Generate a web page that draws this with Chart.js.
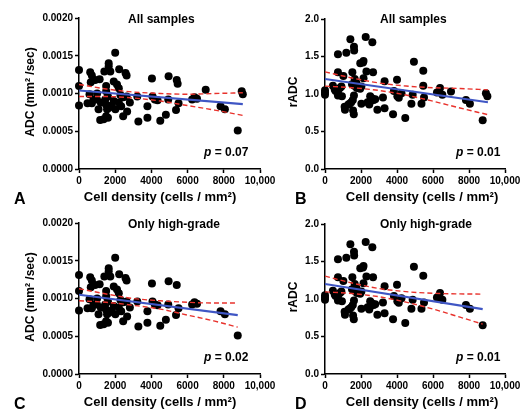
<!DOCTYPE html>
<html><head><meta charset="utf-8">
<script src="https://cdn.jsdelivr.net/npm/chart.js@4.4.1/dist/chart.umd.min.js"></script>
<style>
html,body{margin:0;padding:0;background:#fff;}
#wrap{position:relative;width:524px;height:410px;overflow:hidden;background:#fff;}
canvas{position:absolute;}
</style></head><body>
<div id="wrap">
<canvas id="cA" width="290" height="205" style="left:0;top:0"></canvas>
<canvas id="cB" width="262" height="205" style="left:262px;top:0"></canvas>
<canvas id="cC" width="290" height="205" style="left:0;top:205px"></canvas>
<canvas id="cD" width="262" height="205" style="left:262px;top:205px"></canvas>
</div>
<script>
// ---- Data ----
const xTicks = [0, 2000, 4000, 6000, 8000, 10000];
const adcTicks = [0, 0.0005, 0.001, 0.0015, 0.002];
const radcTicks = [0, 0.5, 1.0, 1.5, 2.0];

// Panel A: all samples, ADC
const aX = [0,0,0,470,580,620,650,710,710,800,890,990,1000,1080,1140,1170,1200,1360,1400,1450,1500,1500,1500,1500,1550,1600,1600,1640,1640,1650,1730,1800,1920,1920,2000,2010,2100,2200,2200,2220,2290,2330,2440,2450,2570,2630,2630,2660,2810,3220,3280,3780,3780,4030,4060,4190,4340,4490,4800,4930,4950,5360,5400,5450,5500,6250,6380,6520,7000,7820,8060,8770,8990,9050];
const aY = [0.00131,0.00110,0.00084,0.00087,0.00099,0.00128,0.00115,0.00124,0.00087,0.00092,0.00118,0.00092,0.00100,0.00079,0.00119,0.00065,0.00088,0.00066,0.00129,0.00092,0.00103,0.00085,0.00070,0.00110,0.00079,0.00068,0.00096,0.00140,0.00136,0.00081,0.00129,0.00084,0.00116,0.00090,0.00154,0.00079,0.00112,0.00107,0.00088,0.00132,0.00098,0.00083,0.00070,0.00095,0.00127,0.00124,0.00096,0.00076,0.00088,0.00096,0.00063,0.00083,0.00068,0.00120,0.00096,0.00092,0.00091,0.00064,0.00072,0.00092,0.00123,0.00078,0.00118,0.00113,0.00087,0.00092,0.00095,0.00093,0.00105,0.00083,0.00079,0.00051,0.00103,0.00099];
const aFitX = [0, 9050];
const aFitY = [0.00104, 0.00086];
const aBandX = [0, 1500, 3000, 4500, 6000, 7500, 9050];
const aUpperY = [0.00112, 0.00106, 0.00102, 0.00100, 0.00099, 0.00100, 0.00101];
const aLowerY = [0.00096, 0.00096, 0.00094, 0.00090, 0.00084, 0.00078, 0.00071];

// Panel B: all samples, rADC
const bX = [0,0,0,440,540,590,720,720,720,720,830,910,940,1020,1090,1110,1185,1300,1370,1410,1460,1500,1520,1545,1560,1600,1610,1620,1630,1650,1610,1740,1770,1950,1960,2020,2020,2110,2140,2140,2260,2300,2370,2460,2510,2560,2630,2630,2670,2700,2790,2910,3220,3310,3310,3780,3830,4000,4020,4100,4250,4460,4800,4870,4940,5360,5460,5460,5500,6220,6390,6520,7000,7830,8050,8760,8940,9020];
const bY = [1.05,0.99,1.02,1.11,1.06,1.04,1.53,1.29,1.03,0.98,1.08,1.10,0.97,1.24,0.83,0.79,1.55,0.86,0.87,1.73,0.89,1.13,1.29,0.92,0.78,0.73,1.63,1.58,1.11,1.20,0.98,1.15,1.08,1.07,1.41,1.10,0.87,1.42,1.44,1.21,1.76,1.30,0.89,0.86,0.97,0.91,1.69,0.94,1.29,0.92,0.93,0.79,0.955,1.17,0.81,0.73,1.04,1.19,0.97,0.95,1.01,0.68,0.87,0.99,1.43,0.87,1.31,1.11,0.955,1.02,1.08,0.99,1.035,0.92,0.87,0.65,1.01,0.97];
const bFitX = [0, 9050];
const bFitY = [1.20, 0.89];
const bBandX = [0, 1500, 3000, 4500, 6000, 7500, 9050];
const bUpperY = [1.295, 1.214, 1.147, 1.106, 1.084, 1.073, 1.055];
const bLowerY = [1.105, 1.084, 1.047, 0.986, 0.904, 0.813, 0.725];

// Panel C: only high-grade, ADC
const cX = [0,0,0,470,580,620,650,710,710,800,890,990,1000,1080,1140,1170,1200,1360,1400,1450,1500,1500,1500,1500,1550,1600,1600,1640,1640,1650,1730,1800,1920,1920,2000,2010,2100,2200,2200,2220,2290,2330,2440,2450,2570,2630,2630,2660,2810,3220,3280,3780,3780,4030,4060,4190,4340,4490,4800,4930,4950,5360,5400,5500,6250,6380,6520,7820,8060,8770];
const cY = [0.00131,0.00110,0.00084,0.00087,0.00099,0.00128,0.00115,0.00124,0.00087,0.00092,0.00118,0.00092,0.00100,0.00079,0.00119,0.00065,0.00088,0.00066,0.00129,0.00092,0.00103,0.00085,0.00070,0.00110,0.00079,0.00068,0.00096,0.00140,0.00136,0.00081,0.00129,0.00084,0.00116,0.00090,0.00154,0.00079,0.00112,0.00107,0.00088,0.00132,0.00098,0.00083,0.00070,0.00095,0.00127,0.00124,0.00096,0.00076,0.00088,0.00096,0.00063,0.00083,0.00068,0.00120,0.00096,0.00092,0.00091,0.00064,0.00072,0.00092,0.00123,0.00078,0.00118,0.00087,0.00092,0.00095,0.00093,0.00083,0.00079,0.00051];
const cFitX = [0, 8770];
const cFitY = [0.00105, 0.00078];
const cBandX = [0, 1500, 3000, 4500, 6000, 7500, 8770];
const cUpperY = [0.00113, 0.00106, 0.00100, 0.00097, 0.00095, 0.00094, 0.00094];
const cLowerY = [0.00097, 0.00095, 0.00091, 0.00086, 0.00078, 0.00070, 0.00062];

// Panel D: only high-grade, rADC
const dX = [0,0,0,440,540,590,720,720,720,720,830,910,940,1020,1090,1110,1185,1300,1370,1410,1460,1500,1520,1545,1560,1600,1610,1620,1630,1650,1610,1740,1770,1950,1960,2020,2020,2110,2140,2140,2260,2300,2370,2460,2510,2560,2630,2630,2670,2700,2790,2910,3220,3310,3310,3780,3830,4000,4020,4100,4250,4460,4800,4870,4940,5360,5460,5500,6220,6390,6520,7830,8050,8760];
const dY = [1.05,0.99,1.02,1.11,1.06,1.04,1.53,1.29,1.03,0.98,1.08,1.10,0.97,1.24,0.83,0.79,1.55,0.86,0.87,1.73,0.89,1.13,1.29,0.92,0.78,0.73,1.63,1.58,1.11,1.20,0.98,1.15,1.08,1.07,1.41,1.10,0.87,1.42,1.44,1.21,1.76,1.30,0.89,0.86,0.97,0.91,1.69,0.94,1.29,0.92,0.93,0.79,0.955,1.17,0.81,0.73,1.04,1.19,0.97,0.95,1.01,0.68,0.87,0.99,1.43,0.87,1.31,0.955,1.02,1.08,0.99,0.92,0.87,0.65];
const dFitX = [0, 8760];
const dFitY = [1.20, 0.865];
const dBandX = [0, 1500, 3000, 4500, 6000, 7500, 8760];
const dUpperY = [1.305, 1.213, 1.14, 1.098, 1.076, 1.068, 1.065];
const dLowerY = [1.095, 1.073, 1.03, 0.958, 0.866, 0.758, 0.665];

const titles = ['All samples', 'All samples', 'Only high-grade', 'Only high-grade'];
const pValues = ['0.07', '0.01', '0.02', '0.01'];
const letters = ['A', 'B', 'C', 'D'];
const xTitle = 'Cell density (cells / mm²)';
const yTitles = ['ADC (mm² /sec)', 'rADC', 'ADC (mm² /sec)', 'rADC'];

// ---- Rendering ----
const FONT = '"Liberation Sans", Arial, Helvetica, sans-serif';
const pts = (xs, ys) => xs.map((x, i) => ({x, y: ys[i]}));

const textPlugin = {
  id: 'panelText',
  afterDraw(chart, args, o) {
    const ctx = chart.ctx;
    ctx.save();
    ctx.fillStyle = '#000';
    ctx.textBaseline = 'middle';
    ctx.textAlign = 'left';
    ctx.font = 'bold 12px ' + FONT;
    ctx.fillText(o.title, o.titleX, 20);
    // p value
    ctx.font = 'italic bold 12px ' + FONT;
    ctx.fillText('p', o.pX, 153);
    const w = ctx.measureText('p').width;
    ctx.font = 'bold 12px ' + FONT;
    ctx.fillText(' = ' + o.p, o.pX + w, 153);
    // x title
    ctx.textAlign = 'center';
    ctx.font = 'bold 13px ' + FONT;
    ctx.fillText(xTitle, 160, 197);
    // y title
    ctx.save();
    ctx.translate(o.yTitleX, 92);
    ctx.rotate(-Math.PI / 2);
    ctx.font = 'bold 12px ' + FONT;
    ctx.fillText(o.yTitle, 0, 0);
    ctx.restore();
    // letter
    ctx.textAlign = 'left';
    ctx.textBaseline = 'alphabetic';
    ctx.font = 'bold 16px ' + FONT;
    ctx.fillText(o.letter, o.letterX, 204);
    ctx.restore();
  }
};

function makeChart(id, idx, sx, sy, fx, fy, bx, up, lo, isAdc, wide) {
  const yTicksArr = isAdc ? adcTicks : radcTicks;
  const leftW = wide ? 79 : 63;
  const rightPad = wide ? 30 : 19;
  const topPad = wide ? 18 : 19;
  const axisBase = {
    border: {display: true, color: '#000', width: 1.5},
    grid: {display: true, drawOnChartArea: false, drawTicks: true, tickLength: 4, tickWidth: 1.5, tickColor: '#000', color: '#000'},
  };
  const tickFont = {family: FONT, size: 10, weight: 'bold'};
  new Chart(document.getElementById(id), {
    type: 'scatter',
    data: {
      datasets: [
        {data: pts(fx, fy), showLine: true, borderColor: '#3f56c4', borderWidth: 2.2, pointRadius: 0, order: 0},
        {data: pts(bx, up), showLine: true, borderColor: '#e8322c', borderWidth: 1.4, borderDash: [5, 3], pointRadius: 0, tension: 0.4, cubicInterpolationMode: 'monotone', order: 1},
        {data: pts(bx, lo), showLine: true, borderColor: '#e8322c', borderWidth: 1.4, borderDash: [5, 3], pointRadius: 0, tension: 0.4, cubicInterpolationMode: 'monotone', order: 1},
        {data: pts(sx, sy), backgroundColor: '#000', borderColor: '#000', borderWidth: 0, pointRadius: 4, clip: false, order: 2}
      ]
    },
    options: {
      responsive: false,
      animation: false,
      events: [],
      layout: {padding: {left: 0, top: topPad, right: rightPad, bottom: 0}},
      plugins: {
        legend: {display: false},
        tooltip: {enabled: false},
        panelText: {
          title: titles[idx], titleX: wide ? 128 : 118,
          p: pValues[idx], pX: wide ? 204 : 194,
          yTitle: yTitles[idx], yTitleX: wide ? 31 : 32,
          letter: letters[idx], letterX: wide ? 14 : 33
        }
      },
      scales: {
        x: Object.assign({}, axisBase, {
          type: 'linear', min: xTicks[0], max: xTicks[xTicks.length - 1],
          afterBuildTicks: s => { s.ticks = xTicks.map(v => ({value: v})); },
          afterFit: s => { s.height = 36; },
          ticks: {font: tickFont, color: '#000', padding: 2, maxRotation: 0, autoSkip: false,
            callback: v => v === 10000 ? '10,000' : String(v)}
        }),
        y: Object.assign({}, axisBase, {
          type: 'linear', min: yTicksArr[0], max: yTicksArr[yTicksArr.length - 1],
          afterBuildTicks: s => { s.ticks = yTicksArr.map(v => ({value: v})); },
          afterFit: s => { s.width = leftW; },
          ticks: {font: tickFont, color: '#000', padding: 2, autoSkip: false,
            callback: v => isAdc ? Number(v).toFixed(4) : Number(v).toFixed(1)}
        })
      }
    },
    plugins: [textPlugin]
  });
}

makeChart('cA', 0, aX, aY, aFitX, aFitY, aBandX, aUpperY, aLowerY, true, true);
makeChart('cB', 1, bX, bY, bFitX, bFitY, bBandX, bUpperY, bLowerY, false, false);
makeChart('cC', 2, cX, cY, cFitX, cFitY, cBandX, cUpperY, cLowerY, true, true);
makeChart('cD', 3, dX, dY, dFitX, dFitY, dBandX, dUpperY, dLowerY, false, false);
</script>
</body></html>
